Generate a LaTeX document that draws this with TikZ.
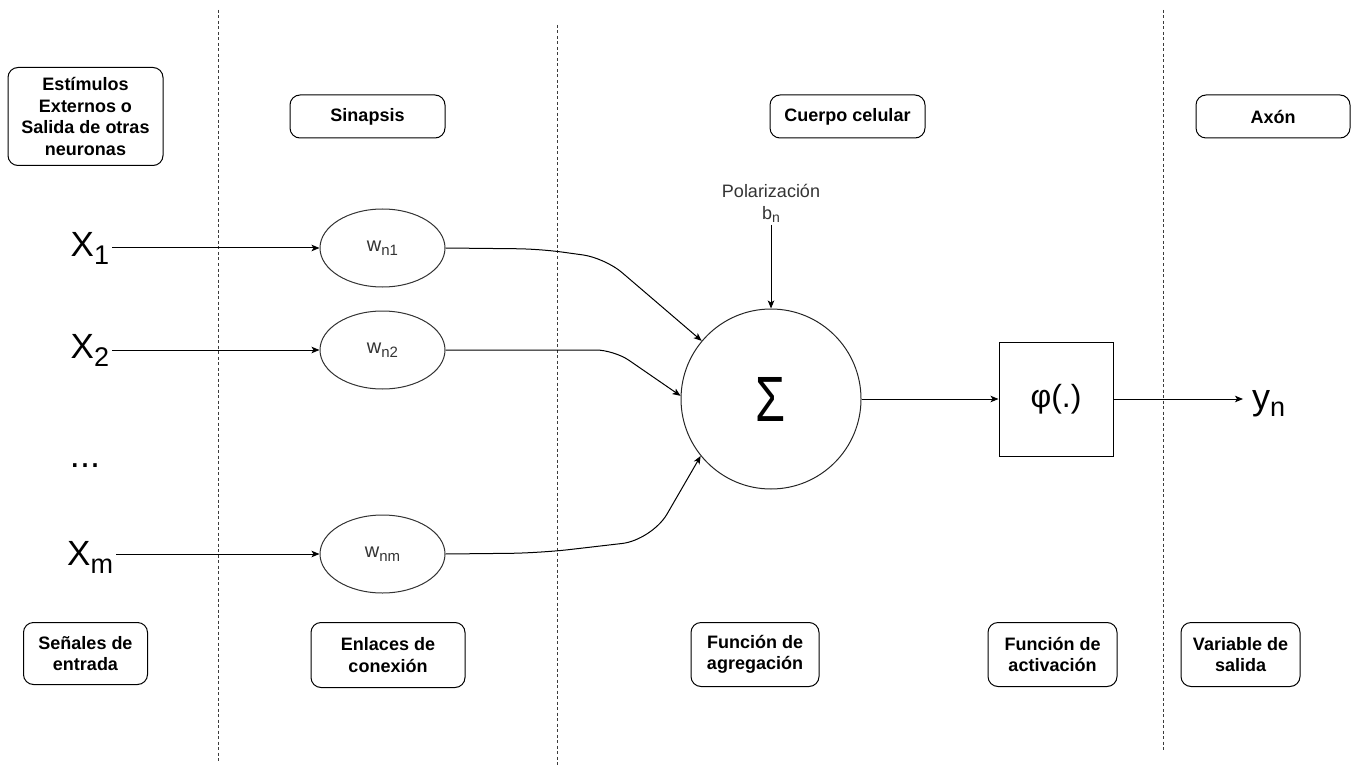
\documentclass[tikz,border=0pt]{standalone}
\usepackage{fontspec}
\setmainfont{Liberation Sans}
\usetikzlibrary{shapes.geometric,arrows.meta}

\definecolor{inkgray}{RGB}{51,51,51}
\definecolor{guide}{RGB}{60,60,60}

% font-size helper: \fs{size}{text}
\newcommand{\fs}[2]{{\fontsize{#1}{#1}\selectfont #2}}
% lowered subscript: \lsub{drop}{size}{text}
\newcommand{\lsub}[3]{\raisebox{-#1}{\fs{#2}{#3}}}

\begin{document}
\begin{tikzpicture}[x=1pt,y=-1pt,
  lbl/.style={draw, rounded corners=10pt, line width=1pt, align=center,
    font=\bfseries\fontsize{18}{21.5}\selectfont, inner sep=0pt},
  weight/.style={draw=inkgray, ellipse, line width=1pt, minimum width=125pt,
    minimum height=78pt, inner sep=0pt, text=inkgray},
  inlabel/.style={inner sep=3pt, anchor=base west},
  arr/.style={line width=1pt, -{Stealth[length=8pt,width=6.5pt,inset=2pt]}},
  guideline/.style={guide, line width=1pt, dash pattern=on 3pt off 2.5pt}]
\useasboundingbox (0,0) rectangle (1356,767);

% vertical section separators
\draw[guideline] (218,10) -- (218,762);
\draw[guideline] (557,25) -- (557,765);
\draw[guideline] (1163,10) -- (1163,750);

% header boxes
\node[lbl, minimum width=155pt, minimum height=98pt] (est) at (85.5,116.5)
  {Estímulos\\Externos o\\Salida de otras\\neuronas};
\node[lbl, minimum width=155pt, minimum height=43pt] (sin) at (367.5,116.5) {Sinapsis};
\node[lbl, minimum width=155pt, minimum height=43pt] (cue) at (847.5,116.5) {Cuerpo celular};
\node[lbl, minimum width=154pt, minimum height=43pt] (axo) at (1273,116.5) {Axón};

% footer boxes
\node[lbl, minimum width=124pt, minimum height=62pt] (sen) at (85.5,653.5) {Señales de\\entrada};
\node[lbl, minimum width=154pt, minimum height=65pt] (enl) at (388,655) {Enlaces de\\conexión};
\node[lbl, minimum width=128pt, minimum height=64pt] (fag) at (755,654.5) {Función de\\agregación};
\node[lbl, minimum width=129pt, minimum height=64pt] (fac) at (1052.5,654.5) {Función de\\activación};
\node[lbl, minimum width=119pt, minimum height=64pt] (var) at (1240.5,654.5) {Variable de\\salida};

% inputs
\node[inlabel] (x1) at (67.5,257) {\fs{35}{X}\lsub{8pt}{27}{1}};
\node[inlabel] (x2) at (67.5,358) {\fs{35}{X}\lsub{8pt}{27}{2}};
\node[inlabel] (xm) at (64,565) {\fs{35}{X}\lsub{8pt}{27}{m}};
\node[anchor=base] (dots) at (85,467) {\fs{36}{...}};

% synaptic weights
\node[weight] (w1) at (382.5,248) {\fs{20}{w}\lsub{4pt}{15}{n1}};
\node[weight] (w2) at (382.5,350) {\fs{20}{w}\lsub{4pt}{15}{n2}};
\node[weight] (wm) at (382.5,554) {\fs{20}{w}\lsub{4pt}{15}{nm}};

% summation junction
\node[draw=black!85, circle, line width=1pt, minimum size=180pt, inner sep=0pt]
  (sum) at (771,399) {\raisebox{-4pt}{\scalebox{0.76}[1]{\fs{64}{Σ}}}};

% bias
\node[anchor=south, align=center, inner sep=2pt, font=\fontsize{18}{22}\selectfont,
  text=inkgray] (pol) at (771,225) {Polarización\\b\lsub{3pt}{14}{n}};

% activation
\node[draw, line width=1pt, minimum size=114pt, inner sep=0pt] (phi) at (1056,399)
  {\fs{32}{φ(.)}};

% output
\node[anchor=base west, inner sep=0pt] (yn) at (1252,409) {\fs{36}{y}\lsub{7pt}{27}{n}};

% coordinates where the weighted links bend toward the junction
\coordinate (a1) at (540,249);
\coordinate (b1) at (605,258);
\coordinate (b2) at (614,350);
\coordinate (am) at (540,553);
\coordinate (b3) at (652,540);

% connectors
\draw[arr] (x1.east |- w1.west) -- (w1.west);
\draw[arr] (x2.east |- w2.west) -- (w2.west);
\draw[arr] (xm.east |- wm.west) -- (wm.west);

\draw[arr, rounded corners=22pt] (w1.east) -- (a1) -- (b1) -- (sum.140);
\draw[arr, rounded corners=18pt] (w2.east) -- (b2) -- (sum.178);
\draw[arr, rounded corners=30pt] (wm.east) -- (am) -- (b3) -- (sum.219);

\draw[arr] (pol.south) -- (sum.north);
\draw[arr] (sum.east) -- (phi.west);
\draw[arr] (phi.east) -- ([xshift=-9pt]phi.east -| yn.west);
\end{tikzpicture}
\end{document}
